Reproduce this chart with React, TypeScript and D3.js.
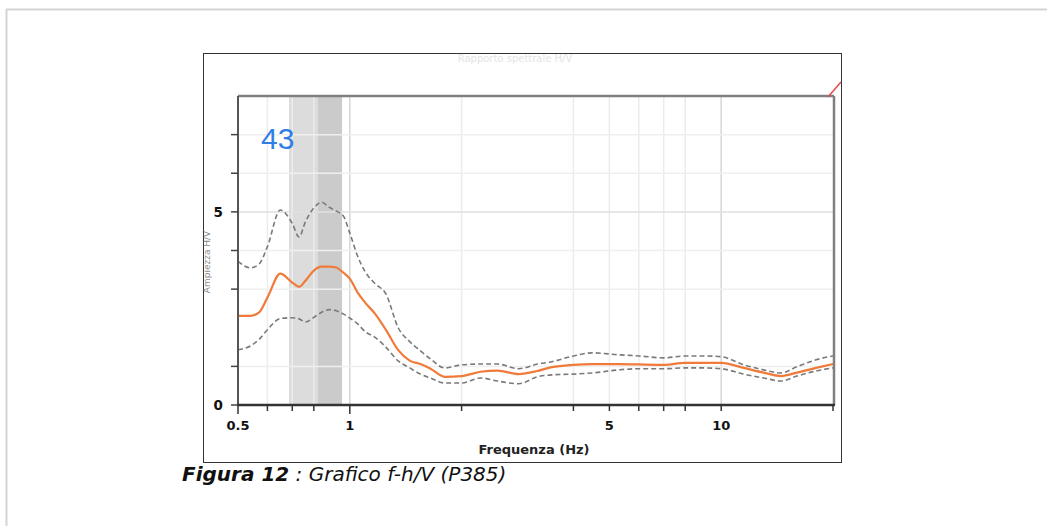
import React from 'react';
import * as d3 from 'd3';

// frequenze (Hz) e curve H/V
const freqs = [0.5, 0.54, 0.57, 0.6, 0.65, 0.7, 0.73, 0.76, 0.8, 0.84, 0.88, 0.92, 0.96, 1.0, 1.05, 1.1, 1.17, 1.25, 1.35, 1.45, 1.55, 1.65, 1.8, 2.0, 2.25, 2.5, 2.85, 3.2, 3.5, 4.0, 4.5, 5.3, 6.0, 7.0, 8.0, 9.0, 10, 11.5, 13, 14.5, 16, 18, 20];
const hvMean = [2.31, 2.31, 2.4, 2.78, 3.4, 3.17, 3.06, 3.22, 3.48, 3.58, 3.58, 3.56, 3.43, 3.27, 2.91, 2.65, 2.36, 1.95, 1.42, 1.15, 1.06, 0.94, 0.73, 0.75, 0.86, 0.89, 0.8, 0.88, 0.98, 1.04, 1.06, 1.06, 1.05, 1.04, 1.09, 1.09, 1.09, 0.96, 0.84, 0.75, 0.84, 0.96, 1.06];
const hvUpper = [3.72, 3.55, 3.65, 4.1, 5.05, 4.7, 4.35, 4.75, 5.1, 5.25, 5.12, 5.02, 4.9, 4.45, 3.85, 3.45, 3.14, 2.88, 2.0, 1.64, 1.4, 1.19, 0.96, 1.04, 1.06, 1.06, 0.94, 1.06, 1.12, 1.27, 1.35, 1.3, 1.27, 1.22, 1.27, 1.27, 1.25, 1.04, 0.91, 0.83, 0.99, 1.17, 1.27];
const hvLower = [1.43, 1.53, 1.7, 1.95, 2.24, 2.26, 2.23, 2.15, 2.27, 2.4, 2.47, 2.44, 2.36, 2.25, 2.1, 1.9, 1.75, 1.5, 1.14, 0.96, 0.8, 0.7, 0.57, 0.57, 0.7, 0.62, 0.55, 0.73, 0.78, 0.8, 0.83, 0.91, 0.94, 0.94, 0.96, 0.96, 0.94, 0.8, 0.7, 0.62, 0.75, 0.88, 0.96];

const xGrid = [0.6, 0.7, 0.8, 1, 2, 4, 5, 6, 7, 8, 10];
const xLabels = [0.5, 1, 5, 10];
const yTicks = [1, 3, 4, 6, 7];
const yLabels = [0, 5];
const peakBand = [0.686, 0.953];
const peakCore = [0.821, 0.953];

const W = 1047, H = 526;
const x = d3.scaleLog().domain([0.5, 20]).range([238, 833]);
const y = d3.scaleLinear().domain([0, 8]).range([405, 96]);

const mkLine = (vals: number[]) =>
  d3.line<number>()
    .x((_, i) => x(freqs[i]))
    .y(d => y(d))
    .curve(d3.curveMonotoneX)(vals) || '';

const App = () => {
  const sans = 'DejaVu Sans, sans-serif';
  return (
    <svg width={W} height={H} style={{ position: 'absolute', left: 0, top: 0 }}>
      <rect width={W} height={H} fill="#fff" />
      {/* cornice pagina */}
      <line x1={6} x2={W} y1={9.5} y2={9.5} stroke="#d4d4d4" strokeWidth={2} />
      <line x1={6.5} x2={6.5} y1={9} y2={H} stroke="#d4d4d4" strokeWidth={2} />

      {/* cornice immagine */}
      <rect x={203.5} y={53.5} width={638} height={409} fill="#fff" stroke="#333" strokeWidth={1} />
      <text x={515} y={62} textAnchor="middle" fontFamily={sans} fontSize={10} fill="#e4e4e4">Rapporto spettrale H/V</text>

      {/* banda picco */}
      <rect x={x(peakBand[0])} y={y(8)} width={x(peakBand[1]) - x(peakBand[0])} height={y(0) - y(8)} fill="#dcdcdc" />
      <rect x={x(peakCore[0])} y={y(8)} width={x(peakCore[1]) - x(peakCore[0])} height={y(0) - y(8)} fill="#cbcbcb" />

      {/* griglia */}
      {xGrid.map(f => (
        <line key={'gx' + f} x1={x(f)} x2={x(f)} y1={y(8)} y2={y(0)}
          stroke={f === 1 || f === 10 ? '#d6d6d6' : '#ececec'} strokeWidth={1.5} />
      ))}
      {[1, 3, 4, 5, 6, 7].map(v => (
        <line key={'gy' + v} x1={x(0.5)} x2={x(20)} y1={y(v)} y2={y(v)}
          stroke={v === 5 ? '#e0e0e0' : '#efefef'} strokeWidth={1.5} />
      ))}

      {/* curve */}
      <path d={mkLine(hvUpper)} fill="none" stroke="#7a7a7a" strokeWidth={1.6} strokeDasharray="5,3" />
      <path d={mkLine(hvLower)} fill="none" stroke="#7a7a7a" strokeWidth={1.6} strokeDasharray="5,3" />
      <path d={mkLine(hvMean)} fill="none" stroke="#f07a3a" strokeWidth={2.2} />

      {/* bordi area */}
      <line x1={x(0.5)} x2={x(20) + 1} y1={y(8)} y2={y(8)} stroke="#808080" strokeWidth={2.5} />
      <line x1={x(20) + 1} x2={x(20) + 1} y1={y(8)} y2={y(0)} stroke="#808080" strokeWidth={2.5} />
      <line x1={x(0.5)} x2={x(0.5)} y1={y(8)} y2={y(0) + 1} stroke="#555" strokeWidth={2} />
      <line x1={x(0.5) - 1} x2={x(20) + 2} y1={y(0)} y2={y(0)} stroke="#333" strokeWidth={2.5} />
      <line x1={828} x2={841} y1={97} y2={82} stroke="#e34b4b" strokeWidth={1.5} />

      {/* assi */}
      {yTicks.map(v => (
        <line key={'ty' + v} x1={x(0.5) - 7} x2={x(0.5)} y1={y(v)} y2={y(v)} stroke="#444" strokeWidth={1.5} />
      ))}
      {yLabels.map(v => (
        <g key={'ly' + v}>
          <line x1={x(0.5) - 7} x2={x(0.5)} y1={y(v)} y2={y(v)} stroke="#444" strokeWidth={1.5} />
          <text x={x(0.5) - 15} y={y(v) + 5} textAnchor="end" fontFamily={sans} fontWeight="bold" fontSize={13.5} fill="#111">{v}</text>
        </g>
      ))}
      {[0.5, 0.6, 0.7, 0.8, 1, 2, 4, 5, 6, 7, 8, 10, 20].map(f => (
        <line key={'tx' + f} x1={x(f)} x2={x(f)} y1={y(0)} y2={y(0) + (f === 1 || f === 0.5 ? 9 : 6)} stroke="#333" strokeWidth={1.5} />
      ))}
      {xLabels.map(f => (
        <text key={'lx' + f} x={x(f)} y={y(0) + 25} textAnchor="middle" fontFamily={sans} fontWeight="bold" fontSize={13} fill="#111">{f}</text>
      ))}
      <text x={534} y={454} textAnchor="middle" fontFamily={sans} fontWeight="bold" fontSize={13} fill="#222">Frequenza (Hz)</text>
      <text transform="translate(210,262) rotate(-90)" textAnchor="middle" fontFamily={sans} fontSize={9} fill="#555" opacity={0.7}>Ampiezza H/V</text>

      <text x={261} y={149} fontFamily="Liberation Sans, sans-serif" fontSize={30} fill="#2f7ee6">43</text>

      {/* didascalia */}
      <text x={182} y={481} fontFamily={sans} fontStyle="italic" fontSize={20} fill="#111">
        <tspan fontWeight="bold">Figura 12</tspan>
        <tspan> : Grafico f-h/V  (P385)</tspan>
      </text>
    </svg>
  );
};

export default App;
